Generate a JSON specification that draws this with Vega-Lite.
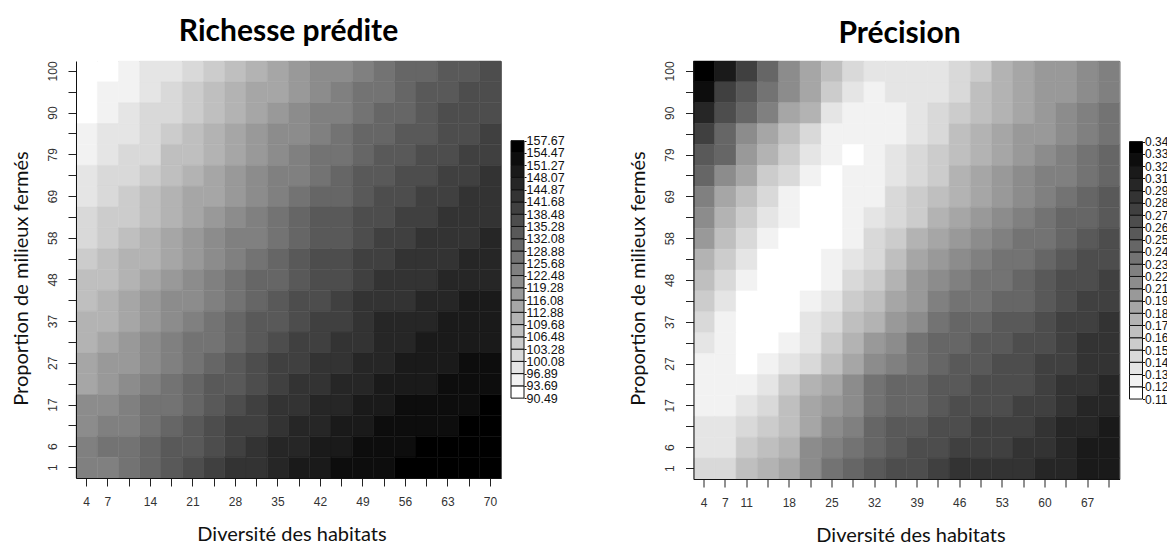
{
"$schema":"https://vega.github.io/schema/vega-lite/v6.json",
"padding":{"left":10,"top":16,"right":0,"bottom":0},
"background":"white",
"config":{"view":{"stroke":"#707070","strokeWidth":1},"axis":{"grid":false}},
"datasets":{
"richesse":[
{"x":4,"y":100,"v":92},{"x":7,"y":100,"v":92},{"x":11,"y":100,"v":95},{"x":14,"y":100,"v":98},{"x":18,"y":100,"v":98},{"x":21,"y":100,"v":102},{"x":25,"y":100,"v":105},{"x":28,"y":100,"v":108},{"x":32,"y":100,"v":111},{"x":35,"y":100,"v":114},{"x":39,"y":100,"v":118},{"x":42,"y":100,"v":121},{"x":46,"y":100,"v":121},{"x":49,"y":100,"v":124},{"x":53,"y":100,"v":127},{"x":56,"y":100,"v":130},{"x":60,"y":100,"v":130},{"x":63,"y":100,"v":134},{"x":67,"y":100,"v":134},{"x":70,"y":100,"v":137},
{"x":4,"y":95,"v":92},{"x":7,"y":95,"v":95},{"x":11,"y":95,"v":95},{"x":14,"y":95,"v":98},{"x":18,"y":95,"v":102},{"x":21,"y":95,"v":105},{"x":25,"y":95,"v":108},{"x":28,"y":95,"v":111},{"x":32,"y":95,"v":114},{"x":35,"y":95,"v":114},{"x":39,"y":95,"v":118},{"x":42,"y":95,"v":121},{"x":46,"y":95,"v":124},{"x":49,"y":95,"v":127},{"x":53,"y":95,"v":127},{"x":56,"y":95,"v":130},{"x":60,"y":95,"v":134},{"x":63,"y":95,"v":134},{"x":67,"y":95,"v":137},{"x":70,"y":95,"v":137},
{"x":4,"y":90,"v":92},{"x":7,"y":90,"v":95},{"x":11,"y":90,"v":98},{"x":14,"y":90,"v":102},{"x":18,"y":90,"v":102},{"x":21,"y":90,"v":105},{"x":25,"y":90,"v":108},{"x":28,"y":90,"v":111},{"x":32,"y":90,"v":114},{"x":35,"y":90,"v":118},{"x":39,"y":90,"v":121},{"x":42,"y":90,"v":124},{"x":46,"y":90,"v":124},{"x":49,"y":90,"v":127},{"x":53,"y":90,"v":130},{"x":56,"y":90,"v":130},{"x":60,"y":90,"v":134},{"x":63,"y":90,"v":137},{"x":67,"y":90,"v":137},{"x":70,"y":90,"v":137},
{"x":4,"y":85,"v":95},{"x":7,"y":85,"v":98},{"x":11,"y":85,"v":98},{"x":14,"y":85,"v":102},{"x":18,"y":85,"v":105},{"x":21,"y":85,"v":108},{"x":25,"y":85,"v":111},{"x":28,"y":85,"v":114},{"x":32,"y":85,"v":118},{"x":35,"y":85,"v":121},{"x":39,"y":85,"v":121},{"x":42,"y":85,"v":124},{"x":46,"y":85,"v":127},{"x":49,"y":85,"v":130},{"x":53,"y":85,"v":130},{"x":56,"y":85,"v":134},{"x":60,"y":85,"v":134},{"x":63,"y":85,"v":137},{"x":67,"y":85,"v":137},{"x":70,"y":85,"v":140},
{"x":4,"y":79,"v":95},{"x":7,"y":79,"v":98},{"x":11,"y":79,"v":102},{"x":14,"y":79,"v":102},{"x":18,"y":79,"v":108},{"x":21,"y":79,"v":108},{"x":25,"y":79,"v":111},{"x":28,"y":79,"v":114},{"x":32,"y":79,"v":118},{"x":35,"y":79,"v":121},{"x":39,"y":79,"v":124},{"x":42,"y":79,"v":127},{"x":46,"y":79,"v":127},{"x":49,"y":79,"v":130},{"x":53,"y":79,"v":134},{"x":56,"y":79,"v":134},{"x":60,"y":79,"v":137},{"x":63,"y":79,"v":137},{"x":67,"y":79,"v":140},{"x":70,"y":79,"v":140},
{"x":4,"y":74,"v":98},{"x":7,"y":74,"v":102},{"x":11,"y":74,"v":102},{"x":14,"y":74,"v":105},{"x":18,"y":74,"v":108},{"x":21,"y":74,"v":111},{"x":25,"y":74,"v":114},{"x":28,"y":74,"v":118},{"x":32,"y":74,"v":121},{"x":35,"y":74,"v":124},{"x":39,"y":74,"v":124},{"x":42,"y":74,"v":127},{"x":46,"y":74,"v":130},{"x":49,"y":74,"v":134},{"x":53,"y":74,"v":134},{"x":56,"y":74,"v":137},{"x":60,"y":74,"v":137},{"x":63,"y":74,"v":140},{"x":67,"y":74,"v":140},{"x":70,"y":74,"v":143},
{"x":4,"y":69,"v":98},{"x":7,"y":69,"v":102},{"x":11,"y":69,"v":105},{"x":14,"y":69,"v":108},{"x":18,"y":69,"v":111},{"x":21,"y":69,"v":114},{"x":25,"y":69,"v":114},{"x":28,"y":69,"v":118},{"x":32,"y":69,"v":121},{"x":35,"y":69,"v":124},{"x":39,"y":69,"v":127},{"x":42,"y":69,"v":130},{"x":46,"y":69,"v":130},{"x":49,"y":69,"v":134},{"x":53,"y":69,"v":137},{"x":56,"y":69,"v":137},{"x":60,"y":69,"v":140},{"x":63,"y":69,"v":140},{"x":67,"y":69,"v":143},{"x":70,"y":69,"v":143},
{"x":4,"y":64,"v":102},{"x":7,"y":64,"v":105},{"x":11,"y":64,"v":105},{"x":14,"y":64,"v":108},{"x":18,"y":64,"v":111},{"x":21,"y":64,"v":114},{"x":25,"y":64,"v":118},{"x":28,"y":64,"v":121},{"x":32,"y":64,"v":124},{"x":35,"y":64,"v":127},{"x":39,"y":64,"v":130},{"x":42,"y":64,"v":134},{"x":46,"y":64,"v":134},{"x":49,"y":64,"v":137},{"x":53,"y":64,"v":137},{"x":56,"y":64,"v":140},{"x":60,"y":64,"v":140},{"x":63,"y":64,"v":143},{"x":67,"y":64,"v":143},{"x":70,"y":64,"v":143},
{"x":4,"y":58,"v":102},{"x":7,"y":58,"v":105},{"x":11,"y":58,"v":108},{"x":14,"y":58,"v":111},{"x":18,"y":58,"v":114},{"x":21,"y":58,"v":118},{"x":25,"y":58,"v":121},{"x":28,"y":58,"v":124},{"x":32,"y":58,"v":124},{"x":35,"y":58,"v":127},{"x":39,"y":58,"v":130},{"x":42,"y":58,"v":134},{"x":46,"y":58,"v":134},{"x":49,"y":58,"v":137},{"x":53,"y":58,"v":140},{"x":56,"y":58,"v":140},{"x":60,"y":58,"v":143},{"x":63,"y":58,"v":143},{"x":67,"y":58,"v":143},{"x":70,"y":58,"v":146},
{"x":4,"y":53,"v":105},{"x":7,"y":53,"v":108},{"x":11,"y":53,"v":111},{"x":14,"y":53,"v":111},{"x":18,"y":53,"v":114},{"x":21,"y":53,"v":118},{"x":25,"y":53,"v":121},{"x":28,"y":53,"v":124},{"x":32,"y":53,"v":127},{"x":35,"y":53,"v":130},{"x":39,"y":53,"v":134},{"x":42,"y":53,"v":137},{"x":46,"y":53,"v":137},{"x":49,"y":53,"v":140},{"x":53,"y":53,"v":140},{"x":56,"y":53,"v":143},{"x":60,"y":53,"v":143},{"x":63,"y":53,"v":143},{"x":67,"y":53,"v":146},{"x":70,"y":53,"v":146},
{"x":4,"y":48,"v":108},{"x":7,"y":48,"v":108},{"x":11,"y":48,"v":111},{"x":14,"y":48,"v":114},{"x":18,"y":48,"v":118},{"x":21,"y":48,"v":121},{"x":25,"y":48,"v":124},{"x":28,"y":48,"v":127},{"x":32,"y":48,"v":130},{"x":35,"y":48,"v":130},{"x":39,"y":48,"v":134},{"x":42,"y":48,"v":137},{"x":46,"y":48,"v":137},{"x":49,"y":48,"v":140},{"x":53,"y":48,"v":143},{"x":56,"y":48,"v":143},{"x":60,"y":48,"v":143},{"x":63,"y":48,"v":146},{"x":67,"y":48,"v":146},{"x":70,"y":48,"v":146},
{"x":4,"y":43,"v":108},{"x":7,"y":43,"v":111},{"x":11,"y":43,"v":114},{"x":14,"y":43,"v":118},{"x":18,"y":43,"v":121},{"x":21,"y":43,"v":121},{"x":25,"y":43,"v":124},{"x":28,"y":43,"v":127},{"x":32,"y":43,"v":130},{"x":35,"y":43,"v":134},{"x":39,"y":43,"v":137},{"x":42,"y":43,"v":137},{"x":46,"y":43,"v":140},{"x":49,"y":43,"v":143},{"x":53,"y":43,"v":143},{"x":56,"y":43,"v":143},{"x":60,"y":43,"v":146},{"x":63,"y":43,"v":146},{"x":67,"y":43,"v":150},{"x":70,"y":43,"v":150},
{"x":4,"y":37,"v":111},{"x":7,"y":37,"v":111},{"x":11,"y":37,"v":114},{"x":14,"y":37,"v":118},{"x":18,"y":37,"v":121},{"x":21,"y":37,"v":124},{"x":25,"y":37,"v":127},{"x":28,"y":37,"v":130},{"x":32,"y":37,"v":134},{"x":35,"y":37,"v":134},{"x":39,"y":37,"v":137},{"x":42,"y":37,"v":140},{"x":46,"y":37,"v":140},{"x":49,"y":37,"v":143},{"x":53,"y":37,"v":146},{"x":56,"y":37,"v":146},{"x":60,"y":37,"v":146},{"x":63,"y":37,"v":150},{"x":67,"y":37,"v":150},{"x":70,"y":37,"v":150},
{"x":4,"y":32,"v":111},{"x":7,"y":32,"v":114},{"x":11,"y":32,"v":118},{"x":14,"y":32,"v":121},{"x":18,"y":32,"v":124},{"x":21,"y":32,"v":127},{"x":25,"y":32,"v":127},{"x":28,"y":32,"v":130},{"x":32,"y":32,"v":134},{"x":35,"y":32,"v":137},{"x":39,"y":32,"v":140},{"x":42,"y":32,"v":140},{"x":46,"y":32,"v":143},{"x":49,"y":32,"v":143},{"x":53,"y":32,"v":146},{"x":56,"y":32,"v":146},{"x":60,"y":32,"v":150},{"x":63,"y":32,"v":150},{"x":67,"y":32,"v":150},{"x":70,"y":32,"v":150},
{"x":4,"y":27,"v":114},{"x":7,"y":27,"v":118},{"x":11,"y":27,"v":118},{"x":14,"y":27,"v":121},{"x":18,"y":27,"v":124},{"x":21,"y":27,"v":127},{"x":25,"y":27,"v":130},{"x":28,"y":27,"v":134},{"x":32,"y":27,"v":137},{"x":35,"y":27,"v":140},{"x":39,"y":27,"v":140},{"x":42,"y":27,"v":143},{"x":46,"y":27,"v":143},{"x":49,"y":27,"v":146},{"x":53,"y":27,"v":146},{"x":56,"y":27,"v":150},{"x":60,"y":27,"v":150},{"x":63,"y":27,"v":150},{"x":67,"y":27,"v":153},{"x":70,"y":27,"v":153},
{"x":4,"y":22,"v":114},{"x":7,"y":22,"v":118},{"x":11,"y":22,"v":121},{"x":14,"y":22,"v":124},{"x":18,"y":22,"v":127},{"x":21,"y":22,"v":130},{"x":25,"y":22,"v":134},{"x":28,"y":22,"v":134},{"x":32,"y":22,"v":137},{"x":35,"y":22,"v":140},{"x":39,"y":22,"v":143},{"x":42,"y":22,"v":143},{"x":46,"y":22,"v":146},{"x":49,"y":22,"v":146},{"x":53,"y":22,"v":150},{"x":56,"y":22,"v":150},{"x":60,"y":22,"v":150},{"x":63,"y":22,"v":153},{"x":67,"y":22,"v":153},{"x":70,"y":22,"v":153},
{"x":4,"y":17,"v":121},{"x":7,"y":17,"v":121},{"x":11,"y":17,"v":124},{"x":14,"y":17,"v":127},{"x":18,"y":17,"v":127},{"x":21,"y":17,"v":130},{"x":25,"y":17,"v":134},{"x":28,"y":17,"v":137},{"x":32,"y":17,"v":140},{"x":35,"y":17,"v":143},{"x":39,"y":17,"v":143},{"x":42,"y":17,"v":146},{"x":46,"y":17,"v":146},{"x":49,"y":17,"v":150},{"x":53,"y":17,"v":150},{"x":56,"y":17,"v":153},{"x":60,"y":17,"v":153},{"x":63,"y":17,"v":153},{"x":67,"y":17,"v":153},{"x":70,"y":17,"v":156},
{"x":4,"y":11,"v":121},{"x":7,"y":11,"v":124},{"x":11,"y":11,"v":124},{"x":14,"y":11,"v":127},{"x":18,"y":11,"v":130},{"x":21,"y":11,"v":134},{"x":25,"y":11,"v":137},{"x":28,"y":11,"v":140},{"x":32,"y":11,"v":140},{"x":35,"y":11,"v":143},{"x":39,"y":11,"v":146},{"x":42,"y":11,"v":146},{"x":46,"y":11,"v":150},{"x":49,"y":11,"v":150},{"x":53,"y":11,"v":153},{"x":56,"y":11,"v":153},{"x":60,"y":11,"v":153},{"x":63,"y":11,"v":153},{"x":67,"y":11,"v":156},{"x":70,"y":11,"v":156},
{"x":4,"y":6,"v":124},{"x":7,"y":6,"v":127},{"x":11,"y":6,"v":127},{"x":14,"y":6,"v":130},{"x":18,"y":6,"v":134},{"x":21,"y":6,"v":134},{"x":25,"y":6,"v":137},{"x":28,"y":6,"v":140},{"x":32,"y":6,"v":143},{"x":35,"y":6,"v":146},{"x":39,"y":6,"v":146},{"x":42,"y":6,"v":150},{"x":46,"y":6,"v":150},{"x":49,"y":6,"v":153},{"x":53,"y":6,"v":153},{"x":56,"y":6,"v":153},{"x":60,"y":6,"v":156},{"x":63,"y":6,"v":156},{"x":67,"y":6,"v":156},{"x":70,"y":6,"v":156},
{"x":4,"y":1,"v":124},{"x":7,"y":1,"v":124},{"x":11,"y":1,"v":127},{"x":14,"y":1,"v":130},{"x":18,"y":1,"v":134},{"x":21,"y":1,"v":137},{"x":25,"y":1,"v":140},{"x":28,"y":1,"v":143},{"x":32,"y":1,"v":143},{"x":35,"y":1,"v":146},{"x":39,"y":1,"v":150},{"x":42,"y":1,"v":150},{"x":46,"y":1,"v":153},{"x":49,"y":1,"v":153},{"x":53,"y":1,"v":153},{"x":56,"y":1,"v":156},{"x":60,"y":1,"v":156},{"x":63,"y":1,"v":156},{"x":67,"y":1,"v":156},{"x":70,"y":1,"v":156}
],
"precision":[
{"x":4,"y":100,"v":0.333},{"x":7,"y":100,"v":0.311},{"x":11,"y":100,"v":0.278},{"x":14,"y":100,"v":0.244},{"x":18,"y":100,"v":0.211},{"x":21,"y":100,"v":0.189},{"x":25,"y":100,"v":0.167},{"x":28,"y":100,"v":0.144},{"x":32,"y":100,"v":0.133},{"x":35,"y":100,"v":0.133},{"x":39,"y":100,"v":0.133},{"x":42,"y":100,"v":0.133},{"x":46,"y":100,"v":0.144},{"x":49,"y":100,"v":0.156},{"x":53,"y":100,"v":0.178},{"x":56,"y":100,"v":0.189},{"x":60,"y":100,"v":0.2},{"x":63,"y":100,"v":0.2},{"x":67,"y":100,"v":0.211},{"x":70,"y":100,"v":0.222},
{"x":4,"y":95,"v":0.322},{"x":7,"y":95,"v":0.278},{"x":11,"y":95,"v":0.255},{"x":14,"y":95,"v":0.233},{"x":18,"y":95,"v":0.211},{"x":21,"y":95,"v":0.189},{"x":25,"y":95,"v":0.156},{"x":28,"y":95,"v":0.133},{"x":32,"y":95,"v":0.122},{"x":35,"y":95,"v":0.133},{"x":39,"y":95,"v":0.133},{"x":42,"y":95,"v":0.133},{"x":46,"y":95,"v":0.144},{"x":49,"y":95,"v":0.167},{"x":53,"y":95,"v":0.178},{"x":56,"y":95,"v":0.189},{"x":60,"y":95,"v":0.2},{"x":63,"y":95,"v":0.2},{"x":67,"y":95,"v":0.211},{"x":70,"y":95,"v":0.222},
{"x":4,"y":90,"v":0.3},{"x":7,"y":90,"v":0.267},{"x":11,"y":90,"v":0.244},{"x":14,"y":90,"v":0.222},{"x":18,"y":90,"v":0.189},{"x":21,"y":90,"v":0.178},{"x":25,"y":90,"v":0.133},{"x":28,"y":90,"v":0.122},{"x":32,"y":90,"v":0.122},{"x":35,"y":90,"v":0.122},{"x":39,"y":90,"v":0.133},{"x":42,"y":90,"v":0.144},{"x":46,"y":90,"v":0.156},{"x":49,"y":90,"v":0.167},{"x":53,"y":90,"v":0.178},{"x":56,"y":90,"v":0.189},{"x":60,"y":90,"v":0.2},{"x":63,"y":90,"v":0.211},{"x":67,"y":90,"v":0.222},{"x":70,"y":90,"v":0.233},
{"x":4,"y":85,"v":0.278},{"x":7,"y":85,"v":0.244},{"x":11,"y":85,"v":0.211},{"x":14,"y":85,"v":0.189},{"x":18,"y":85,"v":0.167},{"x":21,"y":85,"v":0.144},{"x":25,"y":85,"v":0.122},{"x":28,"y":85,"v":0.122},{"x":32,"y":85,"v":0.122},{"x":35,"y":85,"v":0.122},{"x":39,"y":85,"v":0.133},{"x":42,"y":85,"v":0.144},{"x":46,"y":85,"v":0.167},{"x":49,"y":85,"v":0.178},{"x":53,"y":85,"v":0.189},{"x":56,"y":85,"v":0.2},{"x":60,"y":85,"v":0.2},{"x":63,"y":85,"v":0.211},{"x":67,"y":85,"v":0.222},{"x":70,"y":85,"v":0.233},
{"x":4,"y":79,"v":0.255},{"x":7,"y":79,"v":0.244},{"x":11,"y":79,"v":0.2},{"x":14,"y":79,"v":0.178},{"x":18,"y":79,"v":0.156},{"x":21,"y":79,"v":0.133},{"x":25,"y":79,"v":0.122},{"x":28,"y":79,"v":0.111},{"x":32,"y":79,"v":0.122},{"x":35,"y":79,"v":0.133},{"x":39,"y":79,"v":0.144},{"x":42,"y":79,"v":0.156},{"x":46,"y":79,"v":0.167},{"x":49,"y":79,"v":0.178},{"x":53,"y":79,"v":0.189},{"x":56,"y":79,"v":0.2},{"x":60,"y":79,"v":0.211},{"x":63,"y":79,"v":0.222},{"x":67,"y":79,"v":0.233},{"x":70,"y":79,"v":0.244},
{"x":4,"y":74,"v":0.244},{"x":7,"y":74,"v":0.211},{"x":11,"y":74,"v":0.189},{"x":14,"y":74,"v":0.156},{"x":18,"y":74,"v":0.144},{"x":21,"y":74,"v":0.122},{"x":25,"y":74,"v":0.111},{"x":28,"y":74,"v":0.122},{"x":32,"y":74,"v":0.122},{"x":35,"y":74,"v":0.133},{"x":39,"y":74,"v":0.144},{"x":42,"y":74,"v":0.156},{"x":46,"y":74,"v":0.178},{"x":49,"y":74,"v":0.189},{"x":53,"y":74,"v":0.2},{"x":56,"y":74,"v":0.211},{"x":60,"y":74,"v":0.222},{"x":63,"y":74,"v":0.222},{"x":67,"y":74,"v":0.233},{"x":70,"y":74,"v":0.244},
{"x":4,"y":69,"v":0.222},{"x":7,"y":69,"v":0.189},{"x":11,"y":69,"v":0.167},{"x":14,"y":69,"v":0.144},{"x":18,"y":69,"v":0.122},{"x":21,"y":69,"v":0.111},{"x":25,"y":69,"v":0.111},{"x":28,"y":69,"v":0.122},{"x":32,"y":69,"v":0.122},{"x":35,"y":69,"v":0.144},{"x":39,"y":69,"v":0.156},{"x":42,"y":69,"v":0.167},{"x":46,"y":69,"v":0.178},{"x":49,"y":69,"v":0.189},{"x":53,"y":69,"v":0.2},{"x":56,"y":69,"v":0.211},{"x":60,"y":69,"v":0.222},{"x":63,"y":69,"v":0.233},{"x":67,"y":69,"v":0.244},{"x":70,"y":69,"v":0.255},
{"x":4,"y":64,"v":0.211},{"x":7,"y":64,"v":0.178},{"x":11,"y":64,"v":0.156},{"x":14,"y":64,"v":0.133},{"x":18,"y":64,"v":0.122},{"x":21,"y":64,"v":0.111},{"x":25,"y":64,"v":0.111},{"x":28,"y":64,"v":0.122},{"x":32,"y":64,"v":0.133},{"x":35,"y":64,"v":0.144},{"x":39,"y":64,"v":0.156},{"x":42,"y":64,"v":0.178},{"x":46,"y":64,"v":0.189},{"x":49,"y":64,"v":0.2},{"x":53,"y":64,"v":0.211},{"x":56,"y":64,"v":0.222},{"x":60,"y":64,"v":0.233},{"x":63,"y":64,"v":0.244},{"x":67,"y":64,"v":0.244},{"x":70,"y":64,"v":0.255},
{"x":4,"y":58,"v":0.2},{"x":7,"y":58,"v":0.167},{"x":11,"y":58,"v":0.144},{"x":14,"y":58,"v":0.122},{"x":18,"y":58,"v":0.111},{"x":21,"y":58,"v":0.111},{"x":25,"y":58,"v":0.111},{"x":28,"y":58,"v":0.122},{"x":32,"y":58,"v":0.144},{"x":35,"y":58,"v":0.156},{"x":39,"y":58,"v":0.178},{"x":42,"y":58,"v":0.189},{"x":46,"y":58,"v":0.2},{"x":49,"y":58,"v":0.211},{"x":53,"y":58,"v":0.222},{"x":56,"y":58,"v":0.233},{"x":60,"y":58,"v":0.233},{"x":63,"y":58,"v":0.244},{"x":67,"y":58,"v":0.255},{"x":70,"y":58,"v":0.267},
{"x":4,"y":53,"v":0.178},{"x":7,"y":53,"v":0.156},{"x":11,"y":53,"v":0.133},{"x":14,"y":53,"v":0.111},{"x":18,"y":53,"v":0.111},{"x":21,"y":53,"v":0.111},{"x":25,"y":53,"v":0.122},{"x":28,"y":53,"v":0.133},{"x":32,"y":53,"v":0.144},{"x":35,"y":53,"v":0.167},{"x":39,"y":53,"v":0.189},{"x":42,"y":53,"v":0.2},{"x":46,"y":53,"v":0.211},{"x":49,"y":53,"v":0.222},{"x":53,"y":53,"v":0.233},{"x":56,"y":53,"v":0.233},{"x":60,"y":53,"v":0.244},{"x":63,"y":53,"v":0.255},{"x":67,"y":53,"v":0.267},{"x":70,"y":53,"v":0.267},
{"x":4,"y":48,"v":0.167},{"x":7,"y":48,"v":0.144},{"x":11,"y":48,"v":0.122},{"x":14,"y":48,"v":0.111},{"x":18,"y":48,"v":0.111},{"x":21,"y":48,"v":0.111},{"x":25,"y":48,"v":0.122},{"x":28,"y":48,"v":0.144},{"x":32,"y":48,"v":0.156},{"x":35,"y":48,"v":0.178},{"x":39,"y":48,"v":0.2},{"x":42,"y":48,"v":0.211},{"x":46,"y":48,"v":0.222},{"x":49,"y":48,"v":0.233},{"x":53,"y":48,"v":0.233},{"x":56,"y":48,"v":0.244},{"x":60,"y":48,"v":0.255},{"x":63,"y":48,"v":0.267},{"x":67,"y":48,"v":0.267},{"x":70,"y":48,"v":0.278},
{"x":4,"y":43,"v":0.156},{"x":7,"y":43,"v":0.133},{"x":11,"y":43,"v":0.111},{"x":14,"y":43,"v":0.111},{"x":18,"y":43,"v":0.111},{"x":21,"y":43,"v":0.122},{"x":25,"y":43,"v":0.133},{"x":28,"y":43,"v":0.156},{"x":32,"y":43,"v":0.167},{"x":35,"y":43,"v":0.189},{"x":39,"y":43,"v":0.2},{"x":42,"y":43,"v":0.222},{"x":46,"y":43,"v":0.233},{"x":49,"y":43,"v":0.233},{"x":53,"y":43,"v":0.244},{"x":56,"y":43,"v":0.244},{"x":60,"y":43,"v":0.255},{"x":63,"y":43,"v":0.267},{"x":67,"y":43,"v":0.278},{"x":70,"y":43,"v":0.278},
{"x":4,"y":37,"v":0.144},{"x":7,"y":37,"v":0.122},{"x":11,"y":37,"v":0.111},{"x":14,"y":37,"v":0.111},{"x":18,"y":37,"v":0.111},{"x":21,"y":37,"v":0.133},{"x":25,"y":37,"v":0.144},{"x":28,"y":37,"v":0.167},{"x":32,"y":37,"v":0.178},{"x":35,"y":37,"v":0.2},{"x":39,"y":37,"v":0.211},{"x":42,"y":37,"v":0.233},{"x":46,"y":37,"v":0.244},{"x":49,"y":37,"v":0.244},{"x":53,"y":37,"v":0.255},{"x":56,"y":37,"v":0.255},{"x":60,"y":37,"v":0.267},{"x":63,"y":37,"v":0.278},{"x":67,"y":37,"v":0.278},{"x":70,"y":37,"v":0.289},
{"x":4,"y":32,"v":0.133},{"x":7,"y":32,"v":0.122},{"x":11,"y":32,"v":0.111},{"x":14,"y":32,"v":0.111},{"x":18,"y":32,"v":0.122},{"x":21,"y":32,"v":0.133},{"x":25,"y":32,"v":0.156},{"x":28,"y":32,"v":0.178},{"x":32,"y":32,"v":0.2},{"x":35,"y":32,"v":0.211},{"x":39,"y":32,"v":0.233},{"x":42,"y":32,"v":0.244},{"x":46,"y":32,"v":0.244},{"x":49,"y":32,"v":0.255},{"x":53,"y":32,"v":0.255},{"x":56,"y":32,"v":0.267},{"x":60,"y":32,"v":0.267},{"x":63,"y":32,"v":0.278},{"x":67,"y":32,"v":0.289},{"x":70,"y":32,"v":0.289},
{"x":4,"y":27,"v":0.122},{"x":7,"y":27,"v":0.122},{"x":11,"y":27,"v":0.111},{"x":14,"y":27,"v":0.122},{"x":18,"y":27,"v":0.133},{"x":21,"y":27,"v":0.144},{"x":25,"y":27,"v":0.167},{"x":28,"y":27,"v":0.189},{"x":32,"y":27,"v":0.211},{"x":35,"y":27,"v":0.222},{"x":39,"y":27,"v":0.233},{"x":42,"y":27,"v":0.244},{"x":46,"y":27,"v":0.255},{"x":49,"y":27,"v":0.255},{"x":53,"y":27,"v":0.267},{"x":56,"y":27,"v":0.267},{"x":60,"y":27,"v":0.278},{"x":63,"y":27,"v":0.278},{"x":67,"y":27,"v":0.289},{"x":70,"y":27,"v":0.289},
{"x":4,"y":22,"v":0.122},{"x":7,"y":22,"v":0.122},{"x":11,"y":22,"v":0.122},{"x":14,"y":22,"v":0.133},{"x":18,"y":22,"v":0.156},{"x":21,"y":22,"v":0.178},{"x":25,"y":22,"v":0.189},{"x":28,"y":22,"v":0.211},{"x":32,"y":22,"v":0.233},{"x":35,"y":22,"v":0.244},{"x":39,"y":22,"v":0.244},{"x":42,"y":22,"v":0.255},{"x":46,"y":22,"v":0.255},{"x":49,"y":22,"v":0.267},{"x":53,"y":22,"v":0.267},{"x":56,"y":22,"v":0.267},{"x":60,"y":22,"v":0.278},{"x":63,"y":22,"v":0.289},{"x":67,"y":22,"v":0.289},{"x":70,"y":22,"v":0.3},
{"x":4,"y":17,"v":0.122},{"x":7,"y":17,"v":0.122},{"x":11,"y":17,"v":0.133},{"x":14,"y":17,"v":0.144},{"x":18,"y":17,"v":0.167},{"x":21,"y":17,"v":0.189},{"x":25,"y":17,"v":0.2},{"x":28,"y":17,"v":0.211},{"x":32,"y":17,"v":0.233},{"x":35,"y":17,"v":0.244},{"x":39,"y":17,"v":0.244},{"x":42,"y":17,"v":0.255},{"x":46,"y":17,"v":0.267},{"x":49,"y":17,"v":0.267},{"x":53,"y":17,"v":0.267},{"x":56,"y":17,"v":0.278},{"x":60,"y":17,"v":0.278},{"x":63,"y":17,"v":0.289},{"x":67,"y":17,"v":0.3},{"x":70,"y":17,"v":0.3},
{"x":4,"y":11,"v":0.133},{"x":7,"y":11,"v":0.133},{"x":11,"y":11,"v":0.144},{"x":14,"y":11,"v":0.156},{"x":18,"y":11,"v":0.167},{"x":21,"y":11,"v":0.189},{"x":25,"y":11,"v":0.211},{"x":28,"y":11,"v":0.222},{"x":32,"y":11,"v":0.244},{"x":35,"y":11,"v":0.255},{"x":39,"y":11,"v":0.255},{"x":42,"y":11,"v":0.267},{"x":46,"y":11,"v":0.267},{"x":49,"y":11,"v":0.278},{"x":53,"y":11,"v":0.278},{"x":56,"y":11,"v":0.278},{"x":60,"y":11,"v":0.289},{"x":63,"y":11,"v":0.3},{"x":67,"y":11,"v":0.3},{"x":70,"y":11,"v":0.311},
{"x":4,"y":6,"v":0.133},{"x":7,"y":6,"v":0.133},{"x":11,"y":6,"v":0.156},{"x":14,"y":6,"v":0.167},{"x":18,"y":6,"v":0.178},{"x":21,"y":6,"v":0.211},{"x":25,"y":6,"v":0.222},{"x":28,"y":6,"v":0.233},{"x":32,"y":6,"v":0.244},{"x":35,"y":6,"v":0.255},{"x":39,"y":6,"v":0.267},{"x":42,"y":6,"v":0.267},{"x":46,"y":6,"v":0.278},{"x":49,"y":6,"v":0.278},{"x":53,"y":6,"v":0.278},{"x":56,"y":6,"v":0.289},{"x":60,"y":6,"v":0.289},{"x":63,"y":6,"v":0.3},{"x":67,"y":6,"v":0.311},{"x":70,"y":6,"v":0.311},
{"x":4,"y":1,"v":0.144},{"x":7,"y":1,"v":0.144},{"x":11,"y":1,"v":0.167},{"x":14,"y":1,"v":0.178},{"x":18,"y":1,"v":0.189},{"x":21,"y":1,"v":0.211},{"x":25,"y":1,"v":0.233},{"x":28,"y":1,"v":0.244},{"x":32,"y":1,"v":0.255},{"x":35,"y":1,"v":0.267},{"x":39,"y":1,"v":0.267},{"x":42,"y":1,"v":0.278},{"x":46,"y":1,"v":0.289},{"x":49,"y":1,"v":0.289},{"x":53,"y":1,"v":0.289},{"x":56,"y":1,"v":0.289},{"x":60,"y":1,"v":0.3},{"x":63,"y":1,"v":0.3},{"x":67,"y":1,"v":0.311},{"x":70,"y":1,"v":0.311}
],
"legendR":[
{"lo":90.49,"hi":93.69,"v":92},{"lo":93.69,"hi":96.89,"v":95},{"lo":96.89,"hi":100.08,"v":98},{"lo":100.08,"hi":103.28,"v":102},{"lo":103.28,"hi":106.48,"v":105},{"lo":106.48,"hi":109.68,"v":108},{"lo":109.68,"hi":112.88,"v":111},{"lo":112.88,"hi":116.08,"v":114},{"lo":116.08,"hi":119.28,"v":118},{"lo":119.28,"hi":122.48,"v":121},{"lo":122.48,"hi":125.68,"v":124},{"lo":125.68,"hi":128.88,"v":127},{"lo":128.88,"hi":132.08,"v":130},{"lo":132.08,"hi":135.28,"v":134},{"lo":135.28,"hi":138.48,"v":137},{"lo":138.48,"hi":141.68,"v":140},{"lo":141.68,"hi":144.87,"v":143},{"lo":144.87,"hi":148.07,"v":146},{"lo":148.07,"hi":151.27,"v":150},{"lo":151.27,"hi":154.47,"v":153},{"lo":154.47,"hi":157.67,"v":156}
],
"legendP":[
{"lo":0.1055,"hi":0.1166,"v":0.111},{"lo":0.1166,"hi":0.1277,"v":0.122},{"lo":0.1277,"hi":0.1388,"v":0.133},{"lo":0.1388,"hi":0.1499,"v":0.144},{"lo":0.1499,"hi":0.161,"v":0.156},{"lo":0.161,"hi":0.1721,"v":0.167},{"lo":0.1721,"hi":0.1832,"v":0.178},{"lo":0.1832,"hi":0.1943,"v":0.189},{"lo":0.1943,"hi":0.2054,"v":0.2},{"lo":0.2054,"hi":0.2165,"v":0.211},{"lo":0.2165,"hi":0.2276,"v":0.222},{"lo":0.2276,"hi":0.2387,"v":0.233},{"lo":0.2387,"hi":0.2498,"v":0.244},{"lo":0.2498,"hi":0.2609,"v":0.255},{"lo":0.2609,"hi":0.272,"v":0.267},{"lo":0.272,"hi":0.2831,"v":0.278},{"lo":0.2831,"hi":0.2942,"v":0.289},{"lo":0.2942,"hi":0.3053,"v":0.3},{"lo":0.3053,"hi":0.3164,"v":0.311},{"lo":0.3164,"hi":0.3275,"v":0.322},{"lo":0.3275,"hi":0.3386,"v":0.333}
]
},
"resolve":{"scale":{"color":"independent","stroke":"independent"}},
"spacing":62.5,
"hconcat":[
{"hconcat":[
{"width":425,"height":417,"data":{"name":"richesse"},
"title":{"text":"Richesse prédite","font":"Lato","fontSize":30,"fontWeight":"bold","color":"#000","offset":14,"anchor":"middle"},
"mark":{"type":"rect","strokeWidth":0.5},
"encoding":{
"x":{"field":"x","type":"ordinal","scale":{"paddingInner":0,"paddingOuter":0},"axis":{"title":"Diversité des habitats","titleFont":"Lato","titleFontSize":20,"titleFontWeight":"normal","titleColor":"#111","titlePadding":17,"titleX":215.5,"labelFont":"Liberation Sans","labelFontSize":12,"labelColor":"#333","labelAngle":0,"labelPadding":10,"tickSize":8,"tickColor":"#222","domainColor":"#111","labelOverlap":false,"labelExpr":"indexof([4,7,14,21,28,35,42,49,56,63,70],datum.value)>=0?datum.label:''"}},
"y":{"field":"y","type":"ordinal","sort":"descending","scale":{"paddingInner":0,"paddingOuter":0},"axis":{"title":"Proportion de milieux fermés","titleFont":"Lato","titleFontSize":20,"titleFontWeight":"normal","titleColor":"#111","titlePadding":15,"titleY":217,"labelFont":"Liberation Sans","labelFontSize":12,"labelColor":"#333","labelAngle":-90,"labelAlign":"center","labelBaseline":"bottom","labelPadding":9,"tickSize":8,"tickColor":"#222","domainColor":"#111","labelOverlap":false,"labelExpr":"indexof([1,6,17,27,37,48,58,69,79,90,100],datum.value)>=0?datum.label:''"}},
"color":{"field":"v","type":"quantitative","legend":null,"scale":{"type":"threshold","domain":[93.69,96.89,100.08,103.28,106.48,109.68,112.88,116.08,119.28,122.48,125.68,128.88,132.08,135.28,138.48,141.68,144.87,148.07,151.27,154.47],"range":["#ffffff","#f2f2f2","#e5e5e5","#d9d9d9","#cccccc","#bfbfbf","#b3b3b3","#a6a6a6","#999999","#8c8c8c","#808080","#737373","#666666","#595959","#4d4d4d","#404040","#333333","#262626","#1a1a1a","#0d0d0d","#000000"]}},
"stroke":{"field":"v","type":"quantitative","legend":null,"scale":{"type":"threshold","domain":[93.69,96.89,100.08,103.28,106.48,109.68,112.88,116.08,119.28,122.48,125.68,128.88,132.08,135.28,138.48,141.68,144.87,148.07,151.27,154.47],"range":["#ffffff","#f2f2f2","#e5e5e5","#d9d9d9","#cccccc","#bfbfbf","#b3b3b3","#a6a6a6","#999999","#8c8c8c","#808080","#737373","#666666","#595959","#4d4d4d","#404040","#333333","#262626","#1a1a1a","#0d0d0d","#000000"]}}
}},
{"width":13,"height":417,"data":{"name":"legendR"},"view":{"stroke":null},
"mark":{"type":"rect","stroke":"#111","strokeWidth":1},
"encoding":{
"y":{"field":"lo","type":"quantitative","scale":{"domain":[69.65,178.46],"nice":false,"zero":false},"axis":{"title":null,"orient":"right","domain":false,"tickSize":2,"tickColor":"#111","labelFont":"Liberation Sans","labelFontSize":12.5,"labelColor":"#111","labelPadding":0,"labelOverlap":false,"labelBound":false,"values":[90.49,93.69,96.89,100.08,103.28,106.48,109.68,112.88,116.08,119.28,122.48,125.68,128.88,132.08,135.28,138.48,141.68,144.87,148.07,151.27,154.47,157.67],"format":".2f"}},
"y2":{"field":"hi"},
"color":{"field":"v","type":"quantitative","legend":null,"scale":{"type":"threshold","domain":[93.69,96.89,100.08,103.28,106.48,109.68,112.88,116.08,119.28,122.48,125.68,128.88,132.08,135.28,138.48,141.68,144.87,148.07,151.27,154.47],"range":["#ffffff","#f2f2f2","#e5e5e5","#d9d9d9","#cccccc","#bfbfbf","#b3b3b3","#a6a6a6","#999999","#8c8c8c","#808080","#737373","#666666","#595959","#4d4d4d","#404040","#333333","#262626","#1a1a1a","#0d0d0d","#000000"]}}
}}
],"spacing":10,"bounds":"flush","resolve":{"scale":{"color":"independent","stroke":"independent"}}},
{"hconcat":[
{"width":426,"height":418,"data":{"name":"precision"},
"title":{"text":"Précision","font":"Lato","fontSize":30,"fontWeight":"bold","color":"#000","offset":12,"anchor":"middle","dx":-7},
"mark":{"type":"rect","strokeWidth":0.5},
"encoding":{
"x":{"field":"x","type":"ordinal","scale":{"paddingInner":0,"paddingOuter":0},"axis":{"title":"Diversité des habitats","titleFont":"Lato","titleFontSize":20,"titleFontWeight":"normal","titleColor":"#111","titlePadding":17,"titleX":217,"labelFont":"Liberation Sans","labelFontSize":12,"labelColor":"#333","labelAngle":0,"labelPadding":10,"tickSize":8,"tickColor":"#222","domainColor":"#111","labelOverlap":false,"labelExpr":"indexof([4,7,11,18,25,32,39,46,53,60,67],datum.value)>=0?datum.label:''"}},
"y":{"field":"y","type":"ordinal","sort":"descending","scale":{"paddingInner":0,"paddingOuter":0},"axis":{"title":"Proportion de milieux fermés","titleFont":"Lato","titleFontSize":20,"titleFontWeight":"normal","titleColor":"#111","titlePadding":15,"titleY":217,"labelFont":"Liberation Sans","labelFontSize":12,"labelColor":"#333","labelAngle":-90,"labelAlign":"center","labelBaseline":"bottom","labelPadding":9,"tickSize":8,"tickColor":"#222","domainColor":"#111","labelOverlap":false,"labelExpr":"indexof([1,6,17,27,37,48,58,69,79,90,100],datum.value)>=0?datum.label:''"}},
"color":{"field":"v","type":"quantitative","legend":null,"scale":{"type":"threshold","domain":[0.1166,0.1277,0.1388,0.1499,0.161,0.1721,0.1832,0.1943,0.2054,0.2165,0.2276,0.2387,0.2498,0.2609,0.272,0.2831,0.2942,0.3053,0.3164,0.3275],"range":["#ffffff","#f2f2f2","#e5e5e5","#d9d9d9","#cccccc","#bfbfbf","#b3b3b3","#a6a6a6","#999999","#8c8c8c","#808080","#737373","#666666","#595959","#4d4d4d","#404040","#333333","#262626","#1a1a1a","#0d0d0d","#000000"]}},
"stroke":{"field":"v","type":"quantitative","legend":null,"scale":{"type":"threshold","domain":[0.1166,0.1277,0.1388,0.1499,0.161,0.1721,0.1832,0.1943,0.2054,0.2165,0.2276,0.2387,0.2498,0.2609,0.272,0.2831,0.2942,0.3053,0.3164,0.3275],"range":["#ffffff","#f2f2f2","#e5e5e5","#d9d9d9","#cccccc","#bfbfbf","#b3b3b3","#a6a6a6","#999999","#8c8c8c","#808080","#737373","#666666","#595959","#4d4d4d","#404040","#333333","#262626","#1a1a1a","#0d0d0d","#000000"]}}
}},
{"width":13,"height":418,"data":{"name":"legendP"},"view":{"stroke":null},
"mark":{"type":"rect","stroke":"#111","strokeWidth":1},
"encoding":{
"y":{"field":"lo","type":"quantitative","scale":{"domain":[0.0331,0.4116],"nice":false,"zero":false},"axis":{"title":null,"orient":"right","domain":false,"tickSize":2,"tickColor":"#111","labelFont":"Liberation Sans","labelFontSize":12,"labelColor":"#111","labelPadding":0,"labelOverlap":false,"labelBound":false,"values":[0.1055,0.1166,0.1277,0.1388,0.1499,0.161,0.1721,0.1832,0.1943,0.2054,0.2165,0.2276,0.2387,0.2498,0.2609,0.272,0.2831,0.2942,0.3053,0.3164,0.3275,0.3386],"format":".2f"}},
"y2":{"field":"hi"},
"color":{"field":"v","type":"quantitative","legend":null,"scale":{"type":"threshold","domain":[0.1166,0.1277,0.1388,0.1499,0.161,0.1721,0.1832,0.1943,0.2054,0.2165,0.2276,0.2387,0.2498,0.2609,0.272,0.2831,0.2942,0.3053,0.3164,0.3275],"range":["#ffffff","#f2f2f2","#e5e5e5","#d9d9d9","#cccccc","#bfbfbf","#b3b3b3","#a6a6a6","#999999","#8c8c8c","#808080","#737373","#666666","#595959","#4d4d4d","#404040","#333333","#262626","#1a1a1a","#0d0d0d","#000000"]}}
}}
],"spacing":10,"bounds":"flush","resolve":{"scale":{"color":"independent","stroke":"independent"}}}
]
}
